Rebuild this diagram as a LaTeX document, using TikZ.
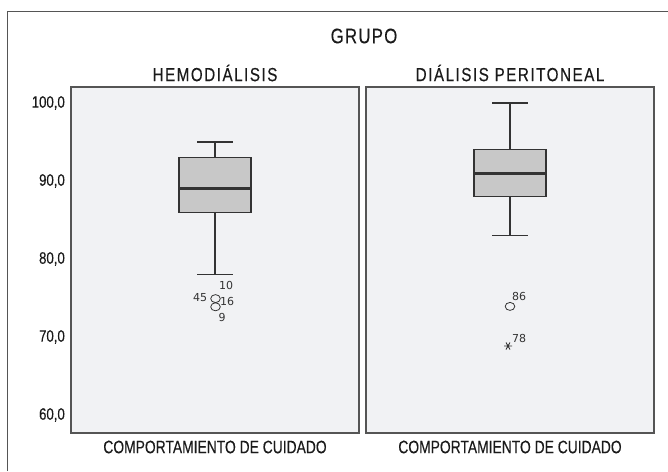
\documentclass[tikz,border=0pt]{standalone}
\usepackage{fontspec}
\newfontfamily\condfont[FakeStretch=0.77,FakeBold=0.3]{Liberation Sans}
\newfontfamily\tickfont[FakeStretch=0.8,FakeBold=0.3]{Liberation Sans}
\newfontfamily\headfont[FakeStretch=0.8,LetterSpace=8,FakeBold=0.3]{Liberation Sans}
\newfontfamily\titlefont[FakeStretch=0.8,LetterSpace=6,FakeBold=0.3]{Liberation Sans}
\newfontfamily\numfont{DejaVu Sans}
\definecolor{panelfill}{HTML}{F1F2F4}
\definecolor{boxfill}{HTML}{C8C8C8}
\definecolor{linec}{HTML}{333333}
\definecolor{framec}{HTML}{555555}
\definecolor{textc}{HTML}{1A1A1A}
\tikzset{
  panel/.style={draw=framec,line width=1.1pt,fill=panelfill},
  iqr/.style={draw=linec,line width=1.2pt,fill=boxfill},
  med/.style={draw=linec,line width=2.8pt},
  whisk/.style={draw=linec,line width=1.1pt},
  outl/.style={draw=linec,line width=0.8pt},
  titletxt/.style={font=\titlefont\fontsize{21}{24}\selectfont,text=textc},
  headtxt/.style={font=\headfont\fontsize{19}{22}\selectfont,text=textc},
  axtxt/.style={font=\condfont\fontsize{18}{21}\selectfont,text=textc},
  ticktxt/.style={font=\tickfont\fontsize{16.5}{19}\selectfont,text=textc,anchor=east,inner sep=0pt},
  idtxt/.style={font=\numfont\fontsize{11}{13}\selectfont,text=linec,inner sep=0pt}
}
\begin{document}
\begin{tikzpicture}[x=1pt,y=-1pt]
\useasboundingbox (0,0) rectangle (668,471);
% outer frame
\draw[framec,line width=1pt] (7.5,471) -- (7.5,11.5) -- (668,11.5);
% title
\node[titletxt] (grupo) at (364,36) {GRUPO};
\node[headtxt] (h1) at (215,73) {HEMODIÁLISIS};
\node[headtxt] (h2) at (510,73) {DIÁLISIS PERITONEAL};
% panels
\path[panel] (71,87) rectangle (359,433);
\path[panel] (366,87) rectangle (654,433);
% ticks
\node[ticktxt] (t100) at (65,103) {100,0};
\node[ticktxt] (t90) at (65,181) {90,0};
\node[ticktxt] (t80) at (65,259) {80,0};
\node[ticktxt] (t70) at (65,337) {70,0};
\node[ticktxt] (t60) at (65,415) {60,0};
% x labels
\node[axtxt] (x1) at (215,447) {COMPORTAMIENTO DE CUIDADO};
\node[axtxt] (x2) at (510,447) {COMPORTAMIENTO DE CUIDADO};
% box 1
\coordinate (b1top) at (215,142);
\coordinate (b1q3) at (215,157.6);
\coordinate (b1q1) at (215,212.2);
\coordinate (b1low) at (215,274.6);
\draw[whisk] (b1top) -- (b1q3);
\draw[whisk] (b1q1) -- (b1low);
\draw[whisk] (197,142) -- (233,142);
\draw[whisk] (197,274.6) -- (233,274.6);
\path[iqr] (179,157.6) rectangle (251,212.2);
\draw[med] (179,188.8) -- (251,188.8);
% outliers 1
\draw[outl] (215.5,298.6) ellipse (4.8 and 4);
\draw[outl] (215.5,306.8) ellipse (4.8 and 4);
\node[idtxt] (l10) at (226,285) {10};
\node[idtxt] (l45) at (200,298) {45};
\node[idtxt] (l16) at (227,301) {16};
\node[idtxt] (l9) at (222,317) {9};
% box 2
\coordinate (b2top) at (510,103);
\coordinate (b2q3) at (510,149.8);
\coordinate (b2q1) at (510,196.6);
\coordinate (b2low) at (510,235.6);
\draw[whisk] (b2top) -- (b2q3);
\draw[whisk] (b2q1) -- (b2low);
\draw[whisk] (492,103) -- (528,103);
\draw[whisk] (492,235.6) -- (528,235.6);
\path[iqr] (474,149.8) rectangle (546,196.6);
\draw[med] (474,173.2) -- (546,173.2);
% outliers 2
\draw[outl] (510,306.4) ellipse (4.8 and 4);
\node[idtxt] (l86) at (519,296) {86};
\coordinate (star) at (508,346);
\draw[outl,line width=0.9pt] ([shift={(-4,0)}]star) -- ([shift={(4,0)}]star)
  ([shift={(-2,-3.5)}]star) -- ([shift={(2,3.5)}]star)
  ([shift={(2,-3.5)}]star) -- ([shift={(-2,3.5)}]star);
\node[idtxt] (l78) at (519,338) {78};
\end{tikzpicture}
\end{document}
